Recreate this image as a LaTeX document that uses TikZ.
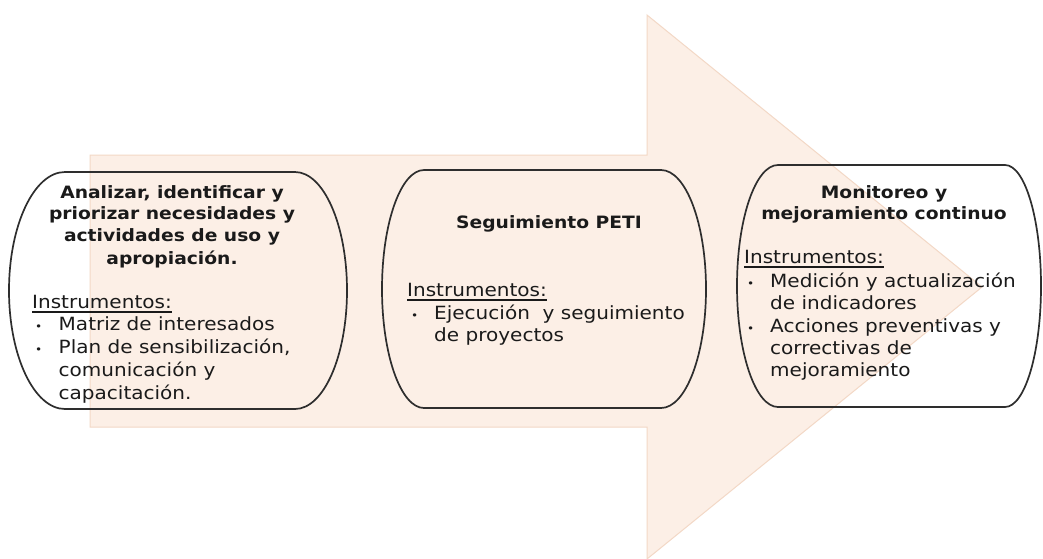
\documentclass[tikz,border=0pt]{standalone}
\usepackage{fontspec}
\setmainfont{DejaVu Sans}[FakeStretch=1.1]
\definecolor{arrowfill}{HTML}{FCEFE6}
\definecolor{arrowedge}{HTML}{F3D8C6}
\definecolor{boxline}{HTML}{2E2E2E}
\definecolor{ink}{HTML}{1A1A1A}
\newcommand\barrelbox[6]{%
  \pgfmathsetmacro\bm{(#2+#4)/2}%
  \pgfmathsetmacro\bh{(#4-#2)/2}%
  \draw[outline] ({#1+#5},#2) -- ({#3-#6},#2)
    .. controls ({#3-0.448*#6},#2) and (#3,{\bm-0.552*\bh}) .. (#3,\bm)
    .. controls (#3,{\bm+0.552*\bh}) and ({#3-0.448*#6},#4) .. ({#3-#6},#4)
    -- ({#1+#5},#4)
    .. controls ({#1+0.448*#5},#4) and (#1,{\bm+0.552*\bh}) .. (#1,\bm)
    .. controls (#1,{\bm-0.552*\bh}) and ({#1+0.448*#5},#2) .. cycle;}
\begin{document}
\begin{tikzpicture}[x=1pt,y=-1pt,
  outline/.style={draw=boxline,line width=1.7pt},
  ttl/.style={inner sep=0pt,anchor=base,text=ink,font=\fontsize{17}{22}\selectfont\bfseries},
  txt/.style={inner sep=0pt,anchor=base west,text=ink,font=\fontsize{18.2}{22}\selectfont},
  bul/.style={inner sep=0pt,anchor=base west,text=ink,font=\fontsize{11}{22}\selectfont},
  uline/.style={draw=ink,line width=1.1pt}]
\clip (0,0) rectangle (1043,558);
\fill[white] (0,0) rectangle (1043,558);
% big background arrow
\filldraw[fill=arrowfill,draw=arrowedge,line width=1pt]
  (90,155) -- (647,155) -- (647,15) -- (982,287) -- (647,559) -- (647,427) -- (90,427) -- cycle;
% boxes
\barrelbox{9}{172}{347}{409}{56}{52}
\barrelbox{382}{170}{706}{408}{42}{45}
\barrelbox{737}{165}{1041}{407}{41}{36}
% left box
\node[ttl] (a1) at (172,198) {Analizar, identificar y};
\node[ttl] (a2) at (172,219.5) {priorizar necesidades y};
\node[ttl] (a3) at (172,241.5) {actividades de uso y};
\node[ttl] (a4) at (172,264) {apropiación.};
\node[txt] (ai) at (32,308) {Instrumentos:};
\draw[uline] ([yshift=-4pt]ai.base west) -- ([yshift=-4pt]ai.base east);
\node[bul] (ab1) at (35,330) {•};
\node[txt] (at1) at (58.5,330) {Matriz de interesados};
\node[bul] (ab2) at (35,353) {•};
\node[txt] (at2) at (58.5,353) {Plan de sensibilización,};
\node[txt] (at3) at (58.5,376) {comunicación y};
\node[txt] (at4) at (58.5,399) {capacitación.};
% middle box
\node[ttl] (b1) at (549,228) {Seguimiento PETI};
\node[txt] (bi) at (407,296) {Instrumentos:};
\draw[uline] ([yshift=-4pt]bi.base west) -- ([yshift=-4pt]bi.base east);
\node[bul] (bb1) at (411,319) {•};
\node[txt] (bt1) at (434,319) {Ejecución \ y seguimiento};
\node[txt] (bt2) at (434,341) {de proyectos};
% right box
\node[ttl] (c1) at (884,198) {Monitoreo y};
\node[ttl] (c2) at (884,219.5) {mejoramiento continuo};
\node[txt] (ci) at (744,263) {Instrumentos:};
\draw[uline] ([yshift=-4pt]ci.base west) -- ([yshift=-4pt]ci.base east);
\node[bul] (cb1) at (747,287) {•};
\node[txt] (ct1) at (770,287) {Medición y actualización};
\node[txt] (ct2) at (770,309.5) {de indicadores};
\node[bul] (cb2) at (747,332) {•};
\node[txt] (ct3) at (770,332) {Acciones preventivas y};
\node[txt] (ct4) at (770,354) {correctivas de};
\node[txt] (ct5) at (770,376) {mejoramiento};
\end{tikzpicture}
\end{document}
